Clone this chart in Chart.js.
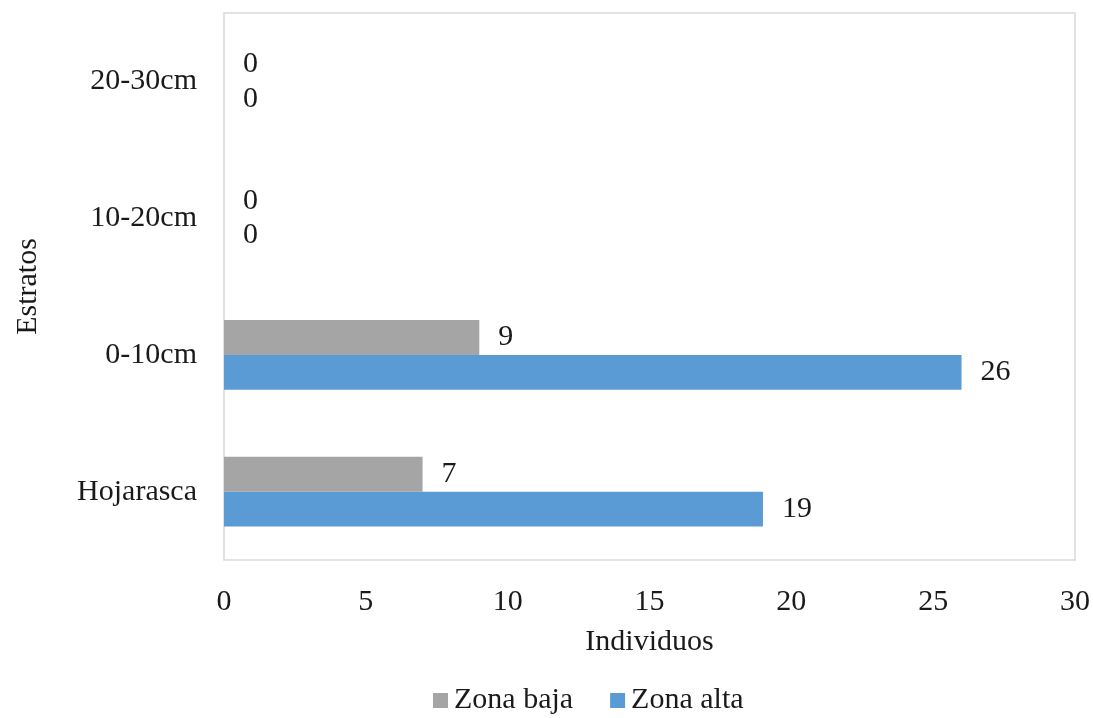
<!DOCTYPE html>
<html>
<head>
<meta charset="utf-8">
<script src="https://cdn.jsdelivr.net/npm/chart.js@4/dist/chart.umd.min.js"></script>
<style>
    html, body { margin: 0; padding: 0; background: #fff; }
    #wrap { width: 1093px; height: 718px; }
</style>
</head>
<body>
<div id="wrap"><canvas id="chart"></canvas></div>
<script>
// Data
const categories = ['Hojarasca', '0-10cm', '10-20cm', '20-30cm'];
const zonaBaja = [7, 9, 0, 0];
const zonaAlta = [19, 26, 0, 0];
const xTicks = [0, 5, 10, 15, 20, 25, 30];

const FONT = "'Liberation Serif', 'Times New Roman', serif";
const SIZE = 30;
const TEXT = '#1a1a1a';

// value labels at the end of each bar
const valueLabels = {
    id: 'valueLabels',
    afterDatasetsDraw(chart) {
        const ctx = chart.ctx;
        ctx.save();
        ctx.font = SIZE + 'px ' + FONT;
        ctx.fillStyle = TEXT;
        ctx.textAlign = 'left';
        ctx.textBaseline = 'middle';
        chart.data.datasets.forEach((ds, i) => {
            chart.getDatasetMeta(i).data.forEach((bar, j) => {
                ctx.fillText(String(ds.data[j]), bar.x + 19, bar.y);
            });
        });
        ctx.restore();
    }
};

// light frame round the plot area
const plotFrame = {
    id: 'plotFrame',
    beforeDatasetsDraw(chart) {
        const a = chart.chartArea;
        const ctx = chart.ctx;
        ctx.save();
        ctx.strokeStyle = '#d9d9d9';
        ctx.lineWidth = 1.5;
        ctx.strokeRect(a.left, a.top, a.right - a.left, a.bottom - a.top);
        ctx.restore();
    }
};

// legend drawn by hand so box/text spacing matches the original
const bottomLegend = {
    id: 'bottomLegend',
    afterDraw(chart) {
        const ctx = chart.ctx;
        const y = chart.height - 18;
        let x = 433;
        ctx.save();
        ctx.font = SIZE + 'px ' + FONT;
        ctx.textBaseline = 'middle';
        ctx.textAlign = 'left';
        chart.data.datasets.forEach((ds) => {
            ctx.fillStyle = ds.backgroundColor;
            ctx.fillRect(x, y - 7, 15, 15);
            x += 21;
            ctx.fillStyle = TEXT;
            ctx.fillText(ds.label, x, y);
            x += ctx.measureText(ds.label).width + 37;
        });
        ctx.restore();
    }
};

new Chart(document.getElementById('chart'), {
    type: 'bar',
    data: {
        labels: categories,
        datasets: [
            { label: 'Zona baja', data: zonaBaja, backgroundColor: '#A5A5A5' },
            { label: 'Zona alta', data: zonaAlta, backgroundColor: '#5B9BD5' }
        ]
    },
    options: {
        indexAxis: 'y',
        responsive: true,
        maintainAspectRatio: false,
        animation: false,
        layout: { padding: { top: 13, right: 18, left: 10, bottom: 0 } },
        datasets: {
            bar: { categoryPercentage: 0.51, barPercentage: 1.0 }
        },
        scales: {
            x: {
                min: 0,
                max: 30,
                afterBuildTicks: (scale) => { scale.ticks = xTicks.map(v => ({ value: v })); },
                afterFit: (scale) => {
                    scale.paddingLeft = 0;
                    scale.paddingRight = 0;
                    scale.height = 158;
                },
                grid: { display: false },
                border: { display: false },
                ticks: { font: { family: FONT, size: SIZE }, color: TEXT, padding: 16, maxRotation: 0 },
                title: {
                    display: true,
                    text: 'Individuos',
                    font: { family: FONT, size: SIZE },
                    color: TEXT,
                    padding: { top: 0, bottom: 58 }
                }
            },
            y: {
                reverse: true,
                afterFit: (scale) => {
                    scale.width = 214;
                    scale.paddingTop = 0;
                    scale.paddingBottom = 0;
                },
                grid: { display: false },
                border: { display: false },
                ticks: { font: { family: FONT, size: SIZE }, color: TEXT, padding: 19 },
                title: {
                    display: true,
                    text: 'Estratos',
                    font: { family: FONT, size: SIZE },
                    color: TEXT,
                    padding: { top: 0, bottom: 0 }
                }
            }
        },
        plugins: {
            legend: { display: false },
            tooltip: { enabled: false }
        }
    },
    plugins: [valueLabels, plotFrame, bottomLegend]
});
</script>
</body>
</html>
